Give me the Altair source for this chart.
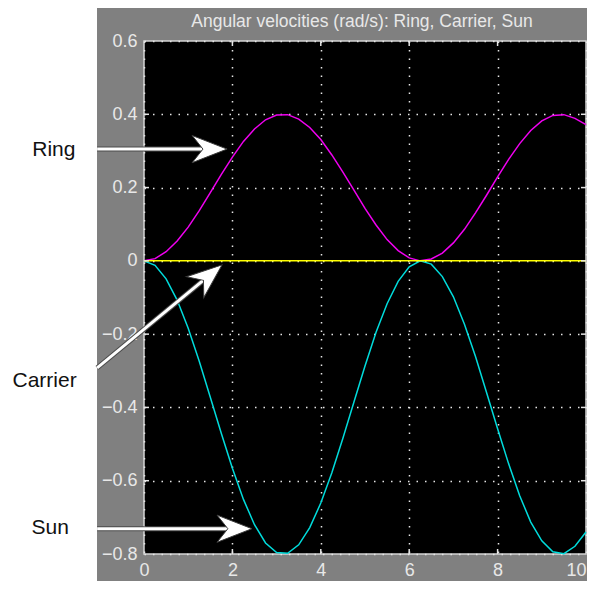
import altair as alt
import pandas as pd

# ---- data ----
t_vals = [0, 0.25, 0.5, 0.75, 1.0, 1.25, 1.5, 1.75, 2.0, 2.25, 2.5, 2.75, 3.0, 3.25,
          3.5, 3.75, 4.0, 4.25, 4.5, 4.75, 5.0, 5.25, 5.5, 5.75, 6.0, 6.25, 6.5, 6.75,
          7.0, 7.25, 7.5, 7.75, 8.0, 8.25, 8.5, 8.75, 9.0, 9.25, 9.5, 9.75, 10.0]
ring_vals = [0.0, 0.006, 0.025, 0.054, 0.092, 0.137, 0.186, 0.236, 0.283, 0.326, 0.360,
             0.385, 0.398, 0.399, 0.387, 0.364, 0.331, 0.289, 0.242, 0.193, 0.143, 0.098,
             0.058, 0.028, 0.008, 0.0, 0.005, 0.021, 0.049, 0.086, 0.131, 0.179, 0.229,
             0.277, 0.320, 0.356, 0.382, 0.397, 0.399, 0.389, 0.372]
sun_vals = [0.0, -0.012, -0.049, -0.107, -0.184, -0.274, -0.372, -0.471, -0.566, -0.651,
            -0.720, -0.770, -0.796, -0.798, -0.775, -0.728, -0.661, -0.578, -0.484, -0.385,
            -0.287, -0.195, -0.117, -0.056, -0.016, 0.0, -0.009, -0.043, -0.098, -0.173,
            -0.261, -0.359, -0.458, -0.554, -0.641, -0.713, -0.764, -0.794, -0.799, -0.779,
            -0.740]
carrier_t = [0, 10]
carrier_vals = [0, 0]

series_names = ["Ring", "Carrier", "Sun"]
series_colors = ["#f000f0", "#ffff00", "#00dcdc"]

title_text = ["Angular velocities (rad/s): Ring, Carrier, Sun"]

x_ticks = [0, 2, 4, 6, 8, 10]
y_ticks = [-0.8, -0.6, -0.4, -0.2, 0, 0.2, 0.4, 0.6]
x_inner = [2, 4, 6, 8]
y_inner = [-0.6, -0.4, -0.2, 0, 0.2, 0.4]

# annotation arrows (data coordinates)
arrow_label = ["Ring", "Carrier", "Sun"]
arrow_t0 = [-1.06, -1.06, -1.06]
arrow_v0 = [0.305, -0.292, -0.731]
arrow_t1 = [1.43, 1.415, 1.99]
arrow_v1 = [0.305, -0.046, -0.731]
tip_t = [1.88, 1.765, 2.443]
tip_v = [0.305, -0.011, -0.731]
tip_angle = [0, 320.3, 0]
label_t = [-2.04, -2.25, -2.12]
label_v = [0.286, -0.344, -0.745]

# left white area (outside the gray scope panel)
white_t = [-4.0]
white_t2 = [-1.063]
white_v = [0.72]
white_v2 = [-0.95]

# ---- tables ----
lines_df = pd.DataFrame(
    [{"t": t, "v": v, "s": "Ring"} for t, v in zip(t_vals, ring_vals)]
    + [{"t": t, "v": v, "s": "Sun"} for t, v in zip(t_vals, sun_vals)]
    + [{"t": t, "v": v, "s": "Carrier"} for t, v in zip(carrier_t, carrier_vals)]
)
arrows_df = pd.DataFrame({"label": arrow_label, "t0": arrow_t0, "v0": arrow_v0,
                          "t1": arrow_t1, "v1": arrow_v1, "tt": tip_t, "tv": tip_v,
                          "ang": tip_angle, "lt": label_t, "lv": label_v})
white_df = pd.DataFrame({"t": white_t, "t2": white_t2, "v": white_v, "v2": white_v2})
xin_df = pd.DataFrame({"t": x_inner})
yin_df = pd.DataFrame({"v": y_inner})
title_df = pd.DataFrame({"txt": title_text})

W, H = 442, 513
LBL = "#e8e8e8"
FONT = "Liberation Sans"

xs = alt.Scale(domain=[0, 10], nice=False, zero=False)
ys = alt.Scale(domain=[-0.8, 0.6], nice=False, zero=False)
common = dict(title=None, grid=True, ticks=False, domain=False, labelColor=LBL,
              labelFontSize=18, labelFont=FONT, labelPadding=7, gridColor="#e6e6e6",
              gridDash=[1.5, 7], gridWidth=1.5, labelFlush=False)
xaxis = alt.Axis(values=x_ticks, format="d",
                 labelAlign={"condition": {"test": "datum.value == 10", "value": "right"},
                             "value": "center"},
                 **common)
yaxis = alt.Axis(values=y_ticks, format="~g", **common)

white = alt.Chart(white_df).mark_rect(color="white").encode(
    x=alt.X("t:Q", scale=xs, axis=xaxis), x2="t2:Q",
    y=alt.Y("v:Q", scale=ys, axis=yaxis), y2="v2:Q")

lines = alt.Chart(lines_df).mark_line(strokeWidth=1.5).encode(
    x=alt.X("t:Q", scale=xs, axis=xaxis),
    y=alt.Y("v:Q", scale=ys, axis=yaxis),
    color=alt.Color("s:N", scale=alt.Scale(domain=series_names, range=series_colors),
                    legend=None),
    detail="s:N",
    order="t:Q")

ring = lines.transform_filter(alt.datum.s == "Ring")
sun = lines.transform_filter(alt.datum.s == "Sun")
carrier = lines.transform_filter(alt.datum.s == "Carrier")

tk = "#e6e6e6"
tick_b = alt.Chart(xin_df).mark_rule(color=tk, strokeWidth=1.5).encode(
    x=alt.X("t:Q", scale=xs, axis=xaxis), y=alt.value(H), y2=alt.value(H - 5))
tick_t = alt.Chart(xin_df).mark_rule(color=tk, strokeWidth=1.5).encode(
    x=alt.X("t:Q", scale=xs, axis=xaxis), y=alt.value(0), y2=alt.value(5))
tick_l = alt.Chart(yin_df).mark_rule(color=tk, strokeWidth=1.5).encode(
    y=alt.Y("v:Q", scale=ys, axis=yaxis), x=alt.value(0), x2=alt.value(5))
tick_r = alt.Chart(yin_df).mark_rule(color=tk, strokeWidth=1.5).encode(
    y=alt.Y("v:Q", scale=ys, axis=yaxis), x=alt.value(W), x2=alt.value(W - 5))

shaft_shadow = alt.Chart(arrows_df).mark_rule(color="#4a4a4a", strokeWidth=5).encode(
    x=alt.X("t0:Q", scale=xs, axis=xaxis), x2="t1:Q",
    y=alt.Y("v0:Q", scale=ys, axis=yaxis), y2="v1:Q")
shaft = alt.Chart(arrows_df).mark_rule(color="white", strokeWidth=3).encode(
    x=alt.X("t0:Q", scale=xs, axis=xaxis), x2="t1:Q",
    y=alt.Y("v0:Q", scale=ys, axis=yaxis), y2="v1:Q")
head = alt.Chart(arrows_df).mark_point(
    shape="M 0 0 L -2 -0.78 L -1.38 0 L -2 0.78 Z", filled=True, fill="white",
    stroke="#3a3a3a", strokeWidth=1, opacity=1, size=1225).encode(
    x=alt.X("tt:Q", scale=xs, axis=xaxis),
    y=alt.Y("tv:Q", scale=ys, axis=yaxis),
    angle=alt.Angle("ang:Q", scale=None))
labels = alt.Chart(arrows_df).mark_text(
    font=FONT, fontSize=21, color="#111111", align="center",
    baseline="alphabetic").encode(
    x=alt.X("lt:Q", scale=xs, axis=xaxis),
    y=alt.Y("lv:Q", scale=ys, axis=yaxis),
    text="label:N")
title = alt.Chart(title_df).mark_text(
    font=FONT, fontSize=17.5, color=LBL, align="center", baseline="alphabetic").encode(
    x=alt.value(W / 2 - 3), y=alt.value(-14), text="txt:N")

chart = alt.layer(
    white, ring, sun, carrier, tick_b, tick_t, tick_l, tick_r,
    shaft_shadow, shaft, head, labels, title
).properties(
    width=W, height=H,
    padding={"left": 136, "top": 33, "right": 1, "bottom": 27},
    autosize=alt.AutoSizeParams(type="none"),
).configure(background="#808080").configure_view(
    fill="black", stroke="#d4d4d4", strokeWidth=1.5
)

chart.save("out.html", embed_options={"renderer": "svg", "actions": False})
